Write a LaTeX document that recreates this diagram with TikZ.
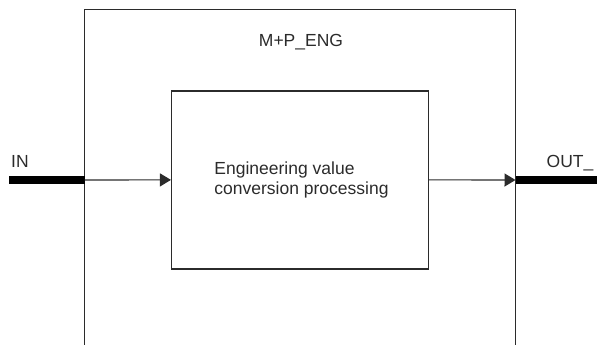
\documentclass[tikz,border=0pt]{standalone}
\usepackage{fontspec}
\setmainfont{Liberation Sans}
\usetikzlibrary{arrows.meta}
\definecolor{ink}{HTML}{2B2B2B}
\tikzset{
  boxline/.style={draw=ink, line width=1.5pt},
  flow/.style={draw=ink, line width=1.1pt, -{Triangle[length=11pt,width=13pt]}},
  bus/.style={draw=black, line width=8pt},
  lbl/.style={text=ink, font=\fontsize{17.5}{20}\selectfont, inner sep=0pt},
}
\begin{document}
\begin{tikzpicture}[x=1pt,y=-1pt]
\useasboundingbox (0,0) rectangle (597,345);
% outer block (open at bottom)
\coordinate (oBL) at (84.5,345);
\coordinate (oTL) at (84.5,9.5);
\coordinate (oTR) at (515.5,9.5);
\coordinate (oBR) at (515.5,345);
\draw[boxline] (oBL) -- (oTL) -- (oTR) -- (oBR);
\node[lbl, anchor=base] (title) at (301,46.5) {M+P\_ENG};
% inner process box
\node[boxline, minimum width=256.6pt, minimum height=178.3pt, inner sep=0pt] (proc) at (300,179.9) {};
\node[lbl, align=left] (ptext) at (301.5,180) {Engineering value\\conversion processing};
% input
\coordinate (inL) at (9,180);
\coordinate (inR) at (84.5,180);
\draw[bus] (inL) -- (inR);
\draw[flow] (inR) -- (proc.west);
\node[lbl, anchor=base west] (inlbl) at (11,167) {IN};
% output
\coordinate (outL) at (515.5,180);
\coordinate (outR) at (597,180);
\draw[flow] (proc.east) -- (outL);
\draw[bus] (outL) -- (outR);
\node[lbl, anchor=base west] (outlbl) at (546.5,167) {OUT\_};
\end{tikzpicture}
\end{document}
